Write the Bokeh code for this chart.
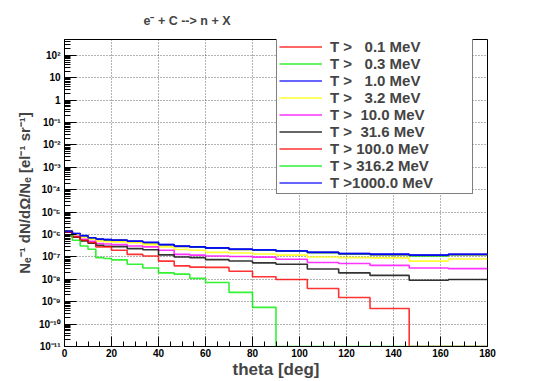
from bokeh.plotting import figure
from bokeh.models import (FixedTicker, CustomJSTickFormatter, Legend, LegendItem,
                          Title, Range1d)
from bokeh.embed import file_html
from bokeh.resources import INLINE

# ---------------- data ----------------
theta_edges = [0, 3.33, 6.67, 10, 13.33, 16.67, 20, 26.67, 33.33, 40, 46.67,
               53.33, 60, 70, 80, 90, 103.33, 116.67, 130, 146.67, 163.33, 180]

thresholds = [0.1, 0.3, 1.0, 3.2, 10.0, 31.6, 100.0, 316.2, 1000.0]
line_colors = ["#ff0000", "#00ee00", "#0000ff", "#ffff00", "#ff00ff",
               "#000000", "#ff0000", "#00ee00", "#0000ff"]

t_0p1 = [1.45e-6, 1.08e-6, 8.6e-7, 7.0e-7, 6.1e-7, 5.8e-7, 5.5e-7, 4.9e-7, 4.3e-7,
         3.5e-7, 2.95e-7, 2.75e-7, 2.45e-7, 2.15e-7, 2.0e-7, 1.8e-7, 1.57e-7,
         1.37e-7, 1.27e-7, 1.15e-7, 1.27e-7]
t_0p3 = [1.42e-6, 1.09e-6, 8.6e-7, 7.0e-7, 6.1e-7, 5.8e-7, 5.5e-7, 4.9e-7, 4.3e-7,
         3.5e-7, 2.95e-7, 2.75e-7, 2.45e-7, 2.15e-7, 2.0e-7, 1.8e-7, 1.55e-7,
         1.35e-7, 1.25e-7, 1.12e-7, 1.25e-7]
t_1p0 = [1.40e-6, 1.10e-6, 8.7e-7, 7.1e-7, 6.2e-7, 5.9e-7, 5.6e-7, 5.0e-7, 4.4e-7,
         3.55e-7, 3.0e-7, 2.8e-7, 2.5e-7, 2.2e-7, 2.05e-7, 1.85e-7, 1.6e-7,
         1.4e-7, 1.3e-7, 1.2e-7, 1.3e-7]
t_3p2 = [1.30e-6, 9.8e-7, 7.6e-7, 6.2e-7, 5.0e-7, 4.8e-7, 4.7e-7, 4.3e-7, 3.55e-7,
         2.8e-7, 2.15e-7, 2.0e-7, 1.6e-7, 1.5e-7, 1.35e-7, 1.2e-7, 1.0e-7,
         9.3e-8, 9.1e-8, 6.5e-8, 8.1e-8]
t_10 = [1.26e-6, 8.3e-7, 6.2e-7, 5.0e-7, 4.0e-7, 3.8e-7, 3.55e-7, 3.1e-7, 2.8e-7,
        2.0e-7, 1.3e-7, 1.2e-7, 1.1e-7, 1.05e-7, 9.8e-8, 7.9e-8, 5.6e-8,
        5.1e-8, 4.2e-8, 3.2e-8, 3.0e-8]
t_31p6 = [1.26e-6, 7.6e-7, 5.2e-7, 4.1e-7, 3.3e-7, 3.0e-7, 2.9e-7, 2.35e-7, 2.1e-7,
          1.23e-7, 1.0e-7, 9.3e-8, 7.6e-8, 6.6e-8, 5.4e-8, 4.7e-8, 2.9e-8,
          1.95e-8, 1.5e-8, 9.1e-9, 9.8e-9]
t_100 = [1.3e-6, 7.8e-7, 5.6e-7, 4.4e-7, 2.8e-7, 2.8e-7, 2.0e-7, 1.3e-7, 1.1e-7,
         6.5e-8, 4.0e-8, 3.5e-8, 3.4e-8, 2.3e-8, 1.3e-8, 9.8e-9, 3.9e-9,
         1.55e-9, 5.0e-10, 0.0, 0.0]
t_316p2 = [9.3e-7, 5.6e-7, 3.1e-7, 2.2e-7, 9.3e-8, 8.5e-8, 7.4e-8, 4.7e-8, 3.2e-8,
           1.95e-8, 1.7e-8, 1.1e-8, 7.2e-9, 2.6e-9, 5.6e-10, 0.0, 0.0,
           0.0, 0.0, 0.0, 0.0]
t_1000 = [1.38e-6, 1.12e-6, 8.9e-7, 7.2e-7, 6.3e-7, 6.0e-7, 5.7e-7, 5.1e-7, 4.5e-7,
          3.6e-7, 3.05e-7, 2.85e-7, 2.55e-7, 2.25e-7, 2.1e-7, 1.9e-7, 1.63e-7,
          1.43e-7, 1.33e-7, 1.22e-7, 1.32e-7]

series = [t_0p1, t_0p3, t_1p0, t_3p2, t_10, t_31p6, t_100, t_316p2, t_1000]

y_min, y_max = 1e-11, 10 ** 2.71
FONT = "Liberation Sans"

# ---------------- figure ----------------
p = figure(width=551, height=381, title=None,
           x_range=Range1d(0, 180), y_range=Range1d(y_min, y_max),
           y_axis_type="log", output_backend="svg", toolbar_location=None,
           min_border_left=64, min_border_right=64, min_border_top=0,
           min_border_bottom=34)
p.outline_line_color = "black"
p.outline_line_width = 1
p.background_fill_color = "white"
p.border_fill_color = "white"

renderers = []
for vals, col in zip(series, line_colors):
    ys = [v if v > 0 else y_min for v in vals]
    ys = ys + [ys[-1]]
    r = p.step(theta_edges, ys, mode="after", line_color=col, line_width=1.6,
               line_alpha=0.8)
    renderers.append(r)

# ---------------- axes ----------------
xa = p.xaxis[0]
xa.ticker = FixedTicker(ticks=list(range(0, 181, 20)), minor_ticks=list(range(0, 181, 5)))
xa.major_tick_in = 10
xa.major_tick_out = 0
xa.minor_tick_in = 5
xa.minor_tick_out = 0
xa.major_label_standoff = 2
xa.major_label_text_font = FONT
xa.major_label_text_font_style = "bold"
xa.major_label_text_font_size = "10px"
xa.major_label_text_color = "black"
xa.axis_label = "theta [deg]"
xa.axis_label_text_font = FONT
xa.axis_label_text_font_style = "bold"
xa.axis_label_text_font_size = "17px"
xa.axis_label_standoff = 0
xa.axis_line_color = "black"

decades = [float("1e%d" % e) for e in range(-11, 3)]
minors = [k * float("1e%d" % e) for e in range(-11, 3) for k in range(2, 10)]
ya = p.yaxis[0]
ya.ticker = FixedTicker(ticks=decades, minor_ticks=minors)
ya.formatter = CustomJSTickFormatter(code="""
const e = Math.round(Math.log10(tick));
if (e === 0) return "1";
if (e === 1) return "10";
const sup = {"-": "\u207b", "0": "\u2070", "1": "\u00b9", "2": "\u00b2", "3": "\u00b3",
             "4": "\u2074", "5": "\u2075", "6": "\u2076", "7": "\u2077", "8": "\u2078", "9": "\u2079"};
return "10" + String(e).split("").map(c => sup[c]).join("");
""")
ya.major_tick_in = 12
ya.major_tick_out = 0
ya.minor_tick_in = 6
ya.minor_tick_out = 0
ya.major_label_standoff = 4
ya.major_label_text_font = FONT
ya.major_label_text_font_style = "bold"
ya.major_label_text_font_size = "10px"
ya.major_label_text_color = "black"
ya.axis_label = "N\u2091\u207b\u00b9 dN/d\u03a9/N\u2091 [el\u207b\u00b9 sr\u207b\u00b9]"
ya.axis_label_text_font = FONT
ya.axis_label_text_font_style = "bold"
ya.axis_label_text_font_size = "15px"
ya.axis_label_standoff = 3
ya.axis_line_color = "black"

p.xgrid.ticker = FixedTicker(ticks=list(range(0, 181, 20)))
p.ygrid.ticker = FixedTicker(ticks=decades)
for g in (p.xgrid[0], p.ygrid[0]):
    g.grid_line_color = "black"
    g.grid_line_alpha = 0.6
    g.grid_line_dash = "1 2"
    g.grid_line_width = 1

# ---------------- title ----------------
p.add_layout(Title(text="e\u207b + C --> n + X", align="left", offset=74,
                   text_font=FONT, text_font_style="bold", text_font_size="12.5px",
                   padding=5, standoff=13), "above")

# ---------------- legend ----------------
labels = ["T >%6.1f MeV" % t for t in thresholds]
items = [LegendItem(label=lbl, renderers=[r]) for lbl, r in zip(labels, renderers)]
legend = Legend(items=items, location=(212, 152),
                label_text_font=FONT, label_text_font_style="bold",
                label_text_font_size="15px",
                glyph_width=43, glyph_height=17,
                label_height=17, label_width=140, label_standoff=8, spacing=0,
                padding=2, margin=0, border_line_color="black", border_line_width=1,
                background_fill_alpha=1.0)
p.add_layout(legend)

open("out.html", "w").write(file_html(p, INLINE))
